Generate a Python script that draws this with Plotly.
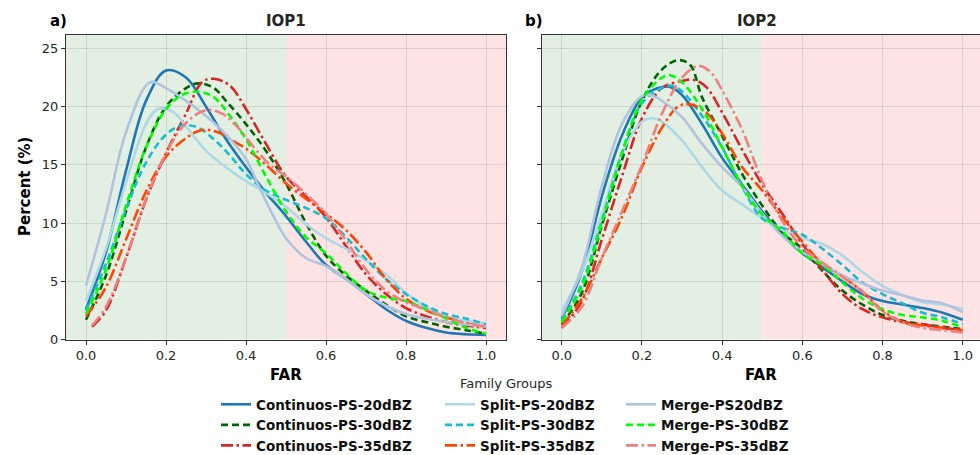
import plotly.graph_objects as go

# ---------------- data ----------------
names = ["Continuos-PS-20dBZ", "Continuos-PS-30dBZ", "Continuos-PS-35dBZ",
         "Split-PS-20dBZ", "Split-PS-30dBZ", "Split-PS-35dBZ",
         "Merge-PS20dBZ", "Merge-PS-30dBZ", "Merge-PS-35dBZ"]
colors = ["#1f77b4", "#006400", "#d62728",
          "#add8e6", "#17becf", "#ff4500",
          "#b0c4de", "#00ff00", "#f08080"]
dashes = ["solid", "7px,4px", "12px,3.5px,2.5px,3.5px",
          "solid", "7px,4px", "12px,3.5px,2.5px,3.5px",
          "solid", "7px,4px", "12px,3.5px,2.5px,3.5px"]

# IOP1
iop1_c20_x = [0, 0.05, 0.1, 0.15, 0.2, 0.25, 0.3, 0.35, 0.4, 0.45, 0.5, 0.55, 0.6, 0.65, 0.7, 0.75, 0.8, 0.85, 0.9, 0.95, 1.0]
iop1_c20_y = [2.6, 7.5, 14.5, 20.5, 23.1, 22.5, 20.0, 17.2, 14.8, 12.6, 10.6, 8.4, 6.4, 5.2, 3.9, 2.6, 1.6, 1.0, 0.6, 0.45, 0.4]
iop1_c30_x = [0, 0.05, 0.1, 0.15, 0.2, 0.25, 0.28, 0.32, 0.35, 0.4, 0.45, 0.5, 0.55, 0.6, 0.65, 0.7, 0.75, 0.8, 0.85, 0.9, 0.95, 1.0]
iop1_c30_y = [1.7, 5.5, 11.0, 16.5, 20.0, 21.6, 22.0, 21.6, 20.5, 18.5, 16.2, 13.4, 10.0, 7.2, 5.5, 4.2, 3.0, 2.0, 1.5, 1.1, 0.8, 0.5]
iop1_c35_x = [0.015, 0.05, 0.1, 0.15, 0.2, 0.25, 0.29, 0.32, 0.36, 0.4, 0.45, 0.5, 0.55, 0.6, 0.65, 0.7, 0.75, 0.8, 0.85, 0.9, 0.95, 1.0]
iop1_c35_y = [1.1, 2.5, 7.0, 12.0, 16.0, 19.4, 22.1, 22.4, 21.8, 19.8, 16.8, 14.0, 12.3, 10.5, 8.0, 5.6, 3.9, 2.7, 2.0, 1.5, 1.2, 1.0]
iop1_s20_x = [0, 0.05, 0.1, 0.15, 0.18, 0.22, 0.25, 0.3, 0.35, 0.4, 0.45, 0.5, 0.55, 0.6, 0.65, 0.7, 0.75, 0.8, 0.85, 0.9, 0.95, 1.0]
iop1_s20_y = [3.3, 7.8, 13.5, 18.5, 19.8, 19.5, 18.3, 16.2, 14.8, 13.6, 12.6, 11.4, 9.9, 8.7, 7.8, 6.8, 5.6, 4.0, 2.8, 2.0, 1.6, 1.4]
iop1_s30_x = [0, 0.05, 0.1, 0.15, 0.2, 0.24, 0.28, 0.32, 0.36, 0.4, 0.45, 0.5, 0.55, 0.6, 0.65, 0.7, 0.75, 0.8, 0.85, 0.9, 0.95, 1.0]
iop1_s30_y = [2.5, 6.5, 11.2, 15.2, 17.6, 18.4, 18.2, 17.2, 15.8, 14.2, 12.8, 12.0, 11.3, 10.4, 8.8, 6.9, 5.2, 3.9, 2.9, 2.2, 1.8, 1.3]
iop1_s35_x = [0, 0.05, 0.1, 0.15, 0.2, 0.25, 0.29, 0.33, 0.37, 0.4, 0.45, 0.5, 0.55, 0.6, 0.65, 0.7, 0.75, 0.8, 0.85, 0.9, 0.95, 1.0]
iop1_s35_y = [2.0, 4.5, 8.6, 12.7, 15.7, 17.3, 18.0, 17.8, 17.0, 16.4, 15.0, 13.4, 12.1, 10.8, 9.4, 7.5, 5.2, 3.5, 2.5, 1.9, 1.4, 1.1]
iop1_m20_x = [0, 0.05, 0.1, 0.16, 0.2, 0.25, 0.3, 0.35, 0.4, 0.43, 0.47, 0.5, 0.55, 0.6, 0.65, 0.7, 0.75, 0.8, 0.85, 0.9, 0.95, 1.0]
iop1_m20_y = [4.6, 10.8, 17.8, 22.1, 21.6, 20.5, 19.2, 17.6, 15.5, 13.3, 10.5, 8.7, 7.0, 6.3, 5.2, 3.9, 2.9, 2.2, 1.8, 1.5, 1.3, 1.1]
iop1_m30_x = [0, 0.05, 0.1, 0.15, 0.2, 0.24, 0.28, 0.32, 0.36, 0.4, 0.45, 0.5, 0.55, 0.6, 0.65, 0.7, 0.75, 0.8, 0.85, 0.9, 0.95, 1.0]
iop1_m30_y = [2.2, 6.0, 11.5, 16.5, 19.8, 21.0, 21.3, 20.8, 19.2, 17.2, 14.0, 11.0, 8.8, 7.4, 5.7, 4.2, 3.6, 3.3, 2.6, 1.8, 1.0, 0.5]
iop1_m35_x = [0.015, 0.05, 0.1, 0.15, 0.2, 0.25, 0.3, 0.34, 0.38, 0.42, 0.46, 0.5, 0.55, 0.6, 0.65, 0.7, 0.75, 0.8, 0.85, 0.9, 0.95, 1.0]
iop1_m35_y = [1.2, 2.8, 7.0, 12.0, 16.0, 18.6, 19.7, 19.4, 18.2, 16.5, 15.0, 14.0, 12.5, 10.8, 8.5, 6.0, 4.2, 3.2, 2.6, 1.9, 1.4, 1.1]

# IOP2
iop2_c20_x = [0, 0.05, 0.1, 0.15, 0.2, 0.24, 0.27, 0.3, 0.35, 0.4, 0.45, 0.5, 0.55, 0.6, 0.65, 0.7, 0.75, 0.8, 0.85, 0.9, 0.95, 1.0]
iop2_c20_y = [1.8, 5.8, 12.3, 17.5, 20.8, 21.6, 21.7, 21.0, 18.5, 15.6, 13.3, 11.0, 9.0, 7.4, 6.2, 5.0, 3.9, 3.3, 3.0, 2.7, 2.3, 1.7]
iop2_c30_x = [0, 0.05, 0.1, 0.15, 0.2, 0.25, 0.29, 0.32, 0.35, 0.4, 0.45, 0.5, 0.55, 0.6, 0.65, 0.7, 0.75, 0.8, 0.85, 0.9, 0.95, 1.0]
iop2_c30_y = [1.3, 4.0, 9.8, 15.4, 20.5, 23.2, 24.0, 23.6, 20.8, 17.5, 14.2, 11.5, 9.2, 7.8, 5.9, 4.2, 3.0, 2.1, 1.6, 1.3, 1.1, 0.9]
iop2_c35_x = [0, 0.05, 0.1, 0.15, 0.2, 0.25, 0.3, 0.33, 0.36, 0.4, 0.45, 0.5, 0.55, 0.6, 0.65, 0.7, 0.75, 0.8, 0.85, 0.9, 0.95, 1.0]
iop2_c35_y = [1.0, 3.3, 8.6, 14.0, 19.0, 21.6, 22.2, 22.3, 21.7, 19.5, 16.3, 13.3, 10.8, 8.2, 6.0, 3.9, 2.6, 1.9, 1.5, 1.3, 1.0, 0.8]
iop2_s20_x = [0, 0.05, 0.1, 0.15, 0.2, 0.225, 0.25, 0.3, 0.35, 0.4, 0.45, 0.5, 0.55, 0.6, 0.65, 0.7, 0.75, 0.8, 0.85, 0.9, 0.95, 1.0]
iop2_s20_y = [2.5, 5.8, 10.8, 16.0, 18.7, 19.0, 18.7, 17.1, 14.8, 12.8, 11.6, 10.4, 9.4, 8.7, 8.2, 7.2, 5.8, 4.6, 3.8, 3.2, 3.0, 2.6]
iop2_s30_x = [0, 0.05, 0.1, 0.15, 0.2, 0.25, 0.275, 0.3, 0.35, 0.4, 0.45, 0.5, 0.55, 0.6, 0.65, 0.7, 0.75, 0.8, 0.85, 0.9, 0.95, 1.0]
iop2_s30_y = [1.6, 4.8, 10.2, 16.0, 20.3, 21.6, 21.8, 21.3, 19.2, 16.5, 13.1, 10.4, 9.6, 9.0, 7.8, 6.4, 4.9, 3.9, 3.1, 2.3, 1.9, 1.3]
iop2_s35_x = [0, 0.05, 0.1, 0.15, 0.2, 0.25, 0.29, 0.32, 0.36, 0.4, 0.45, 0.5, 0.55, 0.6, 0.65, 0.7, 0.75, 0.8, 0.85, 0.9, 0.95, 1.0]
iop2_s35_y = [1.2, 3.5, 7.0, 10.5, 14.8, 18.2, 20.0, 20.2, 19.5, 17.7, 14.8, 12.8, 10.5, 8.4, 6.5, 5.4, 4.1, 2.5, 1.5, 1.2, 1.0, 0.8]
iop2_m20_x = [0, 0.05, 0.1, 0.15, 0.2, 0.22, 0.25, 0.3, 0.35, 0.4, 0.45, 0.5, 0.55, 0.6, 0.65, 0.7, 0.75, 0.8, 0.85, 0.9, 0.95, 1.0]
iop2_m20_y = [2.0, 6.2, 13.2, 18.5, 20.9, 21.0, 20.5, 19.1, 16.8, 14.8, 13.1, 10.8, 8.9, 7.5, 6.5, 5.5, 4.8, 4.2, 3.8, 3.35, 3.1, 2.35]
iop2_m30_x = [0, 0.05, 0.1, 0.15, 0.2, 0.25, 0.27, 0.3, 0.35, 0.4, 0.45, 0.5, 0.55, 0.6, 0.65, 0.7, 0.75, 0.8, 0.85, 0.9, 0.95, 1.0]
iop2_m30_y = [1.5, 4.5, 10.0, 16.0, 20.6, 22.5, 22.7, 22.1, 19.8, 16.5, 13.2, 10.7, 9.3, 7.4, 6.4, 4.9, 3.5, 2.6, 2.1, 1.9, 1.6, 1.05]
iop2_m35_x = [0, 0.05, 0.1, 0.15, 0.2, 0.25, 0.3, 0.34, 0.37, 0.4, 0.45, 0.5, 0.55, 0.6, 0.65, 0.7, 0.75, 0.8, 0.85, 0.9, 0.95, 1.0]
iop2_m35_y = [1.0, 2.8, 7.0, 11.0, 15.0, 19.4, 22.5, 23.5, 23.0, 21.4, 18.0, 13.6, 10.2, 7.9, 6.6, 5.4, 4.1, 2.4, 1.5, 1.0, 0.8, 0.6]

iop1 = [(iop1_c20_x, iop1_c20_y), (iop1_c30_x, iop1_c30_y), (iop1_c35_x, iop1_c35_y),
        (iop1_s20_x, iop1_s20_y), (iop1_s30_x, iop1_s30_y), (iop1_s35_x, iop1_s35_y),
        (iop1_m20_x, iop1_m20_y), (iop1_m30_x, iop1_m30_y), (iop1_m35_x, iop1_m35_y)]
iop2 = [(iop2_c20_x, iop2_c20_y), (iop2_c30_x, iop2_c30_y), (iop2_c35_x, iop2_c35_y),
        (iop2_s20_x, iop2_s20_y), (iop2_s30_x, iop2_s30_y), (iop2_s35_x, iop2_s35_y),
        (iop2_m20_x, iop2_m20_y), (iop2_m30_x, iop2_m30_y), (iop2_m35_x, iop2_m35_y)]

x_ticks = [0.0, 0.2, 0.4, 0.6, 0.8, 1.0]
y_ticks = [0, 5, 10, 15, 20, 25]
far_threshold = 0.5

# ---------------- figure ----------------
W, H = 980, 455
FONT = "DejaVu Sans"
TXT = "#262626"

fig = go.Figure()
legend_ids = ["legend", "legend2", "legend3"]
for i, (name, col, dash) in enumerate(zip(names, colors, dashes)):
    xs, ys = iop1[i]
    fig.add_trace(go.Scatter(x=xs, y=ys, mode="lines", name=name,
                             line=dict(color=col, width=2.6, dash=dash, shape="spline", smoothing=1.0),
                             xaxis="x", yaxis="y", legend=legend_ids[i // 3], showlegend=True))
    xs, ys = iop2[i]
    fig.add_trace(go.Scatter(x=xs, y=ys, mode="lines", name=name,
                             line=dict(color=col, width=2.6, dash=dash, shape="spline", smoothing=1.0),
                             xaxis="x2", yaxis="y2", showlegend=False))

px_x = lambda p: p / W
px_y = lambda p: 1 - p / H

ax1_dom = [px_x(66), px_x(506)]
ax2_dom = [px_x(541.7), 1.0]
y_dom = [px_y(339.5), px_y(34.5)]
x2_max = -0.05 + (W - 541.7) / 401.0

common_x = dict(tickvals=x_ticks, tickformat=".1f", showline=True, mirror=True,
                linecolor="#333333", linewidth=1.2, ticks="outside", ticklen=4,
                tickcolor="#333333", tickwidth=1, showgrid=True, automargin=False,
                gridcolor="rgba(140,140,140,0.25)", gridwidth=1, zeroline=False,
                tickfont=dict(family=FONT, size=13, color=TXT))
common_y = dict(domain=y_dom, range=[0, 26.2], tickvals=y_ticks, showline=True, mirror=True,
                linecolor="#333333", linewidth=1.2, ticks="outside", ticklen=4,
                tickcolor="#333333", showgrid=True, gridcolor="rgba(140,140,140,0.25)",
                zeroline=False, automargin=False, tickfont=dict(family=FONT, size=13, color=TXT))

fig.update_layout(
    width=W, height=H, margin=dict(l=0, r=0, t=0, b=0, autoexpand=False),
    paper_bgcolor="white", plot_bgcolor="white",
    font=dict(family=FONT, color=TXT),
    xaxis=dict(domain=ax1_dom, range=[-0.05, 1.05], anchor="y", **common_x),
    xaxis2=dict(domain=ax2_dom, range=[-0.05, x2_max], anchor="y2", **common_x),
    yaxis=dict(anchor="x", **common_y),
    yaxis2=dict(anchor="x2", showticklabels=False, **common_y),
)

# background shading: good / bad FAR
for xa, ya, xmax in (("x", "y domain", 1.05), ("x2", "y2 domain", x2_max)):
    fig.add_shape(type="rect", xref=xa, yref=ya, x0=-0.05, x1=far_threshold, y0=0, y1=1,
                  fillcolor="#e4efe3", line_width=0, layer="below")
    fig.add_shape(type="rect", xref=xa, yref=ya, x0=far_threshold, x1=xmax, y0=0, y1=1,
                  fillcolor="#fde3e4", line_width=0, layer="below")

# legends (3 columns)
leg_common = dict(orientation="v", xanchor="left", yanchor="top", bgcolor="rgba(0,0,0,0)",
                  borderwidth=0, font=dict(family=FONT, size=13.5, color="#111111", weight="bold"),
                  itemwidth=30, tracegroupgap=0)
fig.update_layout(
    legend=dict(x=px_x(216), y=px_y(389), **leg_common),
    legend2=dict(x=px_x(440), y=px_y(389), **leg_common),
    legend3=dict(x=px_x(621), y=px_y(389), **leg_common),
)

def label(text, x, y, size=15, color="black", xanchor="center", angle=0):
    return dict(text=text, x=px_x(x), y=px_y(y), xref="paper", yref="paper", showarrow=False,
                textangle=angle, font=dict(size=size, family=FONT, color=color),
                xanchor=xanchor, yanchor="middle")

ann = [
    label("<b>IOP1</b>", 286, 21, color=TXT),
    label("<b>IOP2</b>", 757, 21, color=TXT),
    label("<b>a)</b>", 48, 21, xanchor="left"),
    label("<b>b)</b>", 523, 21, xanchor="left"),
    label("<b>FAR</b>", 286, 375),
    label("<b>FAR</b>", 761, 375),
    label("<b>Percent (%)</b>", 25, 187, angle=-90),
    label("Family Groups", 506, 383, size=13, color=TXT),
]
fig.update_layout(annotations=ann)

fig.write_html("out.html", config={"displayModeBar": False},
               post_script="document.body.style.margin='0';document.body.style.overflow='hidden';")
